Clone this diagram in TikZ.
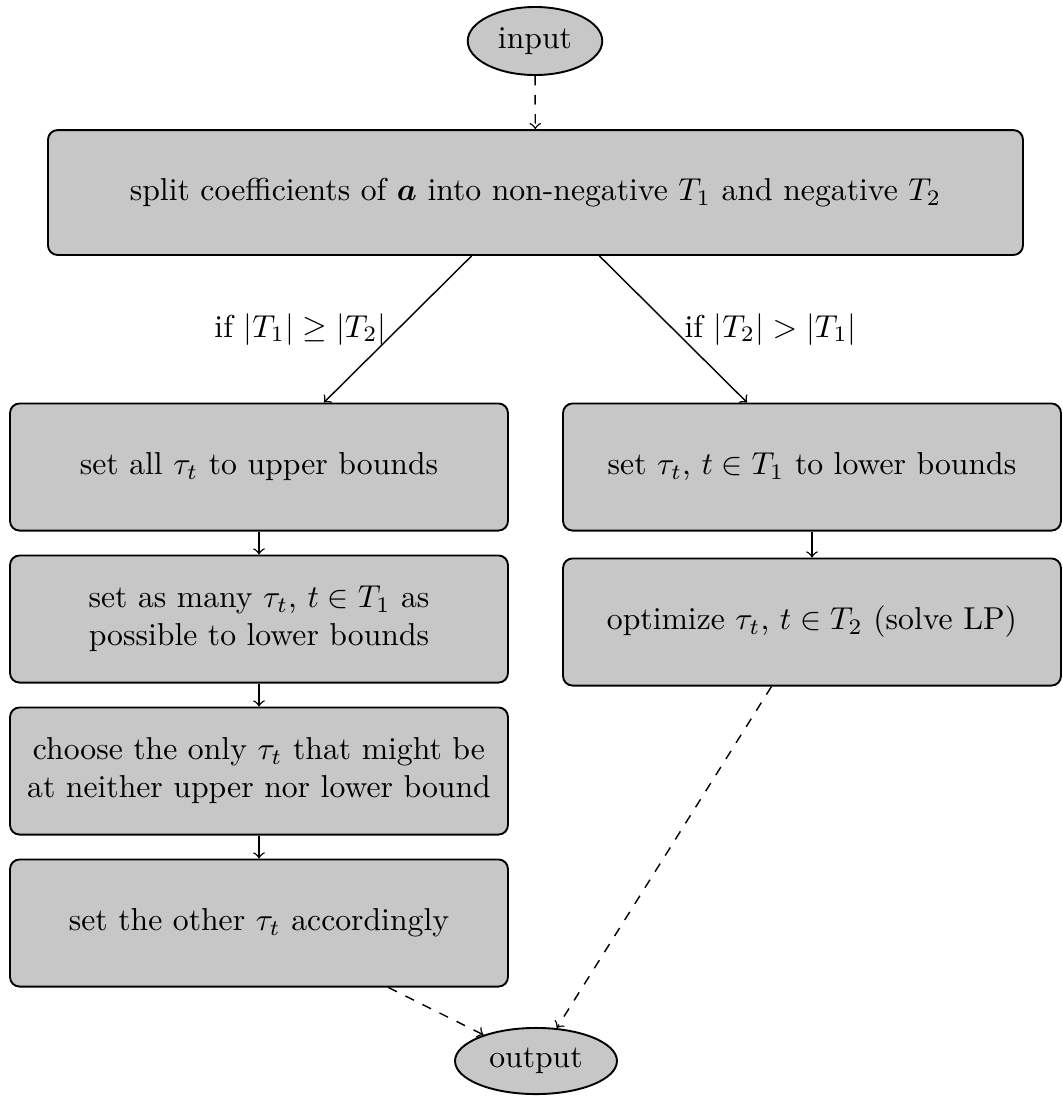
\documentclass[tikz,border=0pt]{standalone}
\usepackage{amsmath,bm}
\usetikzlibrary{shapes.geometric}
\begin{document}
\begin{tikzpicture}[x=0.3155pt,y=-0.3155pt,
  stepbox/.style={draw, rounded corners=3pt, fill=black!22, line width=0.6pt,
    align=center, inner sep=3pt},
  widebox/.style={stepbox, minimum width=307.6pt, minimum height=39.4pt},
  colbox/.style={stepbox, minimum width=157.1pt, minimum height=40.1pt},
  term/.style={ellipse, draw, fill=black!22, line width=0.6pt},
  flow/.style={->, line width=0.45pt},
  dflow/.style={flow, dashed}]
\useasboundingbox (0,0) rectangle (1062,1099);

% start and end
\node[term] (in) at (535,41) {input};
\node[term] (out) at (536,1061) {output};

% splitting step
\node[widebox] (split) at (535.5,192.5)
  {split coefficients of $\bm{a}$ into non-negative $T_1$ and negative $T_2$};

% left branch
\node[colbox] (l1) at (259,467) {set all $\tau_t$ to upper bounds};
\node[colbox] (l2) at (259,619) {set as many $\tau_t$, $t \in T_1$ as\\possible to lower bounds};
\node[colbox] (l3) at (259,771) {choose the only $\tau_t$ that might be\\at neither upper nor lower bound};
\node[colbox] (l4) at (259,923) {set the other $\tau_t$ accordingly};

% right branch
\node[colbox] (r1) at (812,467) {set $\tau_t$, $t \in T_1$ to lower bounds};
\node[colbox] (r2) at (812,622) {optimize $\tau_t$, $t \in T_2$ (solve LP)};

% connectors
\draw[dflow] (in) -- (split);
\draw[flow] (split) -- node[midway,left] {if $|T_1| \geq |T_2|$} (l1);
\draw[flow] (split) -- node[midway,right] {if $|T_2| > |T_1|$} (r1);
\draw[flow] (l1) -- (l2);
\draw[flow] (l2) -- (l3);
\draw[flow] (l3) -- (l4);
\draw[flow] (r1) -- (r2);
\draw[dflow] (l4) -- (out);
\draw[dflow] (r2) -- (out);
\end{tikzpicture}
\end{document}
